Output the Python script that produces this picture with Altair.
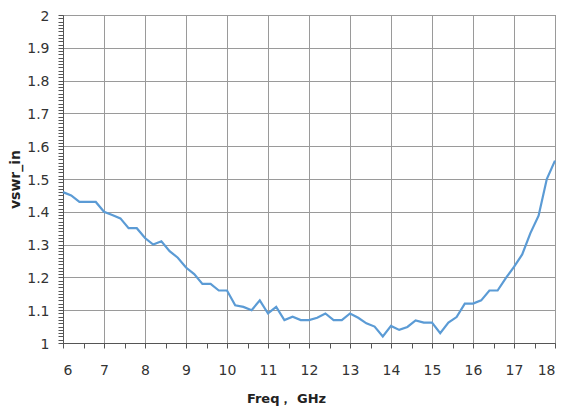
import altair as alt
import pandas as pd

freq = [6.0, 6.2, 6.4, 6.6, 6.8, 7.0, 7.2, 7.4, 7.6, 7.8, 8.0, 8.2, 8.4, 8.6, 8.8,
        9.0, 9.2, 9.4, 9.6, 9.8, 10.0, 10.2, 10.4, 10.6, 10.8, 11.0, 11.2, 11.4,
        11.6, 11.8, 12.0, 12.2, 12.4, 12.6, 12.8, 13.0, 13.2, 13.4, 13.6, 13.8,
        14.0, 14.2, 14.4, 14.6, 14.8, 15.0, 15.2, 15.4, 15.6, 15.8, 16.0, 16.2,
        16.4, 16.6, 16.8, 17.0, 17.2, 17.4, 17.6, 17.8, 18.0]
vswr = [1.46, 1.45, 1.43, 1.43, 1.43, 1.40, 1.39, 1.38, 1.35, 1.35, 1.32, 1.30,
        1.31, 1.28, 1.26, 1.23, 1.21, 1.18, 1.18, 1.16, 1.16, 1.115, 1.11, 1.10,
        1.13, 1.09, 1.11, 1.07, 1.08, 1.07, 1.07, 1.077, 1.09, 1.07, 1.07, 1.09,
        1.077, 1.06, 1.05, 1.02, 1.052, 1.04, 1.049, 1.069, 1.062, 1.062, 1.03,
        1.062, 1.079, 1.12, 1.12, 1.13, 1.16, 1.16, 1.198, 1.232, 1.27, 1.335,
        1.388, 1.50, 1.556]

x_ticks = [6 + 0.5 * i for i in range(25)]
y_ticks = [round(1 + 0.01 * i, 2) for i in range(101)]

df = pd.DataFrame({"freq": freq, "vswr": vswr})

FONT = "DejaVu Sans"
is_major_x = "abs(datum.value - round(datum.value)) < 1e-6"
is_major_y = "abs(datum.value * 10 - round(datum.value * 10)) < 1e-6"

chart = alt.Chart(df).mark_line(color="#5b9bd5", strokeWidth=2.2).encode(
    x=alt.X("freq:Q", scale=alt.Scale(domain=[6, 18], nice=False, zero=False),
            axis=alt.Axis(values=x_ticks, title="Freq， GHz",
                          labelExpr=f"{is_major_x} ? format(datum.value, '~g') : ''",
                          gridOpacity=alt.expr(f"{is_major_x} ? 1 : 0"),
                          tickSize=5, labelPadding=15, titlePadding=15,
                          titleX=223)),
    y=alt.Y("vswr:Q", scale=alt.Scale(domain=[1, 2], nice=False, zero=False),
            axis=alt.Axis(values=y_ticks, title="vswr_in",
                          labelExpr=f"{is_major_y} ? format(datum.value, '~g') : ''",
                          gridOpacity=alt.expr(f"{is_major_y} ? 1 : 0"),
                          tickSize=5, labelPadding=9, labelOffset=1,
                          titlePadding=4, titleFontSize=14)),
).properties(
    width=492, height=328,
    autosize=alt.AutoSizeParams(type="none"),
    padding={"left": 55, "top": 7, "right": 3, "bottom": 66},
).configure_axis(
    labelFont=FONT, labelFontSize=14, labelColor="#333333",
    titleFont=FONT, titleFontSize=13, titleFontWeight="bold", titleColor="#222222",
    gridColor="#9a9a9a", gridWidth=1,
    domainColor="#555555", tickColor="#555555",
).configure_view(stroke="#666666", strokeWidth=1)

chart.save("out.html", embed_options={"renderer": "svg", "actions": False})
